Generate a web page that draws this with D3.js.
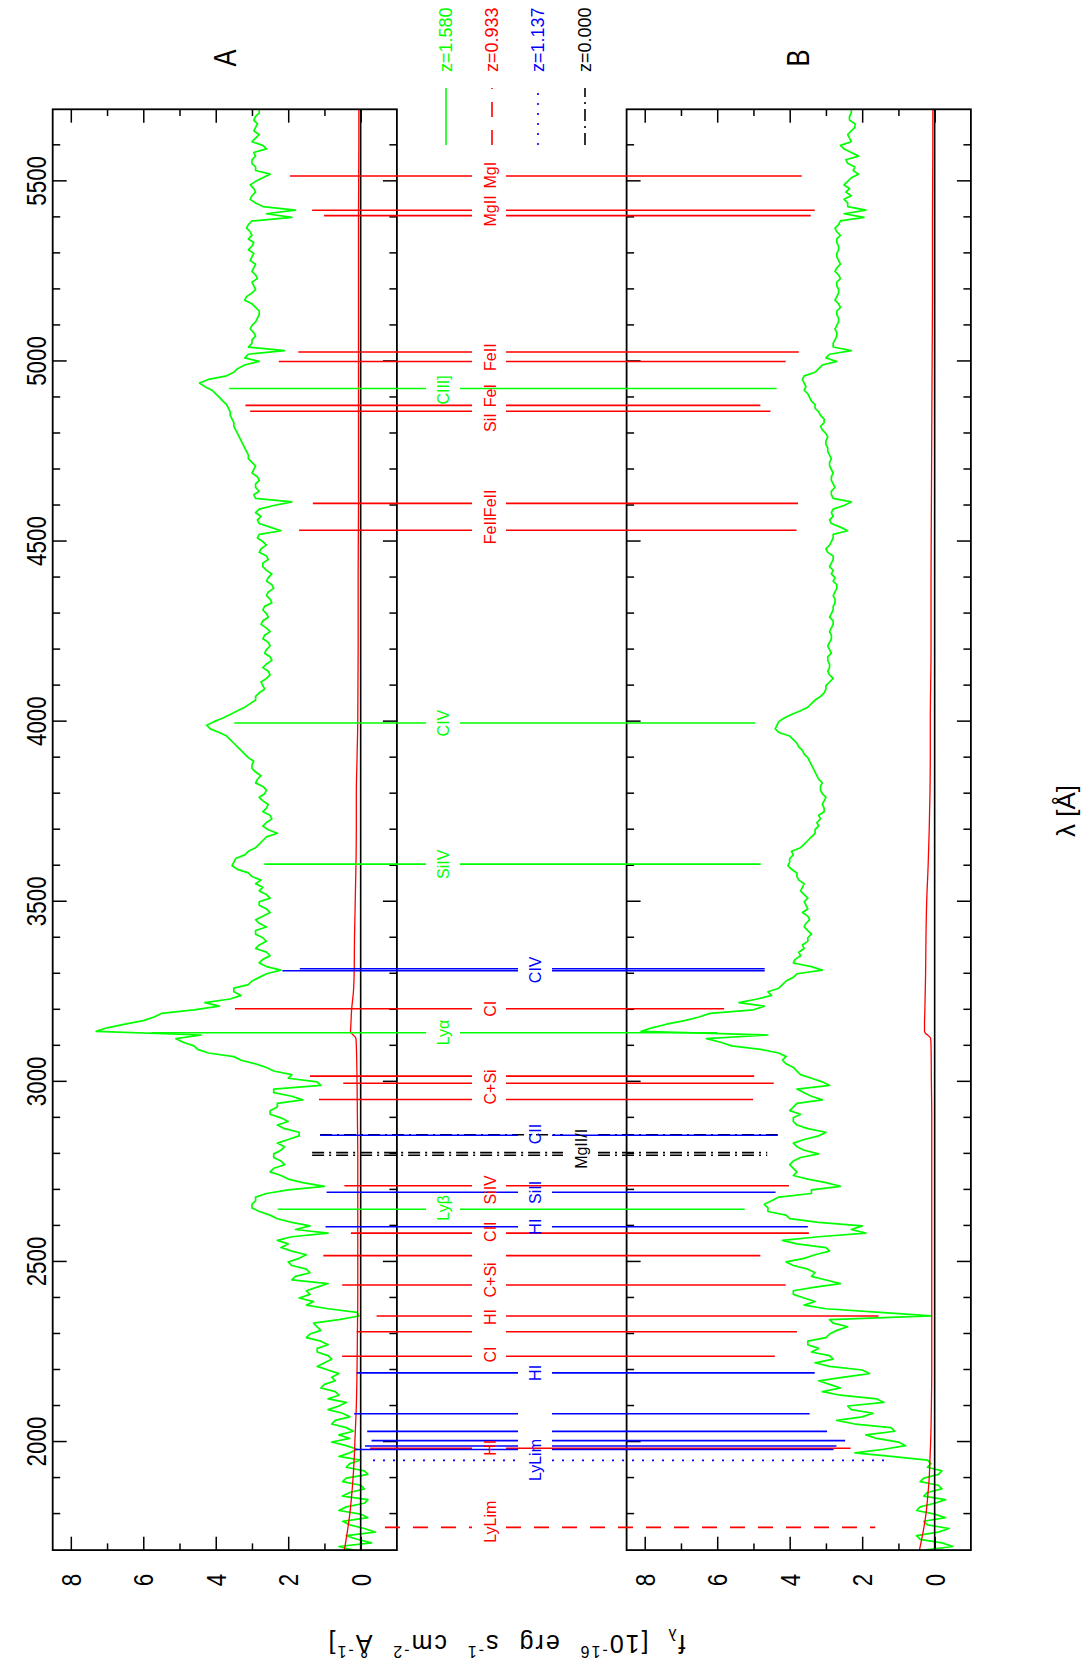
<!DOCTYPE html>
<html><head><meta charset="utf-8">
<script src="https://cdn.jsdelivr.net/npm/d3@7"></script>
<style>body{margin:0;background:#fff} svg{display:block} text{font-family:"Liberation Sans",Arial,sans-serif}</style>
</head><body><svg id="c" width="1087" height="1668"></svg>
<script>
// ---------------- data ----------------
const waveGrid = d3.range(1700, 5701, 10); // wavelength samples [Å]
const fluxA = [
0.2,0.6,-0.3,0.1,0.4,-0.4,-0.1,0.3,0.5,-0.2,
0.0,0.6,0.4,-0.1,-0.2,0.5,0.3,-0.1,0.0,0.5,
0.4,-0.2,-0.1,0.4,0.3,0.0,0.6,0.3,0.1,0.4,
0.8,0.3,0.6,0.2,0.4,0.8,0.7,0.3,0.5,0.9,
0.6,0.4,0.9,0.6,0.7,1.1,1.0,0.7,0.8,0.6,
0.9,1.2,1.0,0.8,0.9,1.2,1.2,0.9,1.1,1.5,
1.4,1.1,1.2,1.3,0.6,0.05,0.1,0.9,1.5,1.3,
1.7,1.4,1.5,1.2,0.9,1.9,1.8,1.4,1.5,1.9,
2.0,1.7,1.5,1.9,2.2,2.0,2.3,1.9,0.9,1.8,
1.4,1.9,2.3,2.5,2.8,3.0,3.0,2.9,2.9,2.6,
2.0,1.0,1.6,2.0,2.2,2.5,2.4,2.1,2.2,2.4,
2.4,2.2,2.1,2.3,2.0,1.7,1.7,2.1,2.3,2.0,
2.2,2.5,2.5,2.3,2.3,1.6,1.9,2.4,2.4,1.1,
1.2,2.0,1.9,2.4,2.6,2.9,3.3,3.5,4.2,4.5,
4.6,4.9,5.1,4.4,7.3,7.0,6.5,6.0,5.7,5.5,
4.6,3.9,4.3,3.6,3.3,3.5,3.5,3.1,3.0,2.8,
2.6,2.2,2.6,2.8,2.7,2.5,2.6,2.9,2.8,2.6,
2.7,2.9,2.9,2.6,2.8,2.9,2.7,2.5,2.6,2.8,
2.8,2.5,2.6,2.8,2.7,2.9,2.75,3.0,3.1,3.4,
3.55,3.5,3.45,3.2,3.1,2.9,2.8,2.7,2.6,2.3,
2.55,2.7,2.6,2.45,2.5,2.7,2.6,2.55,2.7,2.8,
2.65,2.6,2.7,2.9,2.85,2.75,2.9,3.0,3.0,2.95,
3.1,3.2,3.3,3.4,3.5,3.6,3.7,3.9,4.15,4.25,
4.05,3.8,3.6,3.4,3.2,3.05,2.9,2.9,2.8,2.65,
2.7,2.75,2.6,2.5,2.55,2.7,2.6,2.45,2.5,2.65,
2.6,2.5,2.55,2.7,2.65,2.5,2.6,2.75,2.7,2.55,
2.6,2.7,2.65,2.45,2.5,2.6,2.55,2.4,2.45,2.6,
2.55,2.45,2.6,2.7,2.7,2.55,2.6,2.8,2.75,2.6,
2.7,2.85,2.8,2.2,2.5,2.8,2.85,2.75,2.9,2.8,
2.4,1.9,2.9,2.95,2.8,2.9,2.9,2.8,2.85,3.0,
2.95,2.9,3.0,3.1,3.1,3.15,3.2,3.25,3.3,3.35,
3.4,3.45,3.5,3.5,3.55,3.6,3.6,3.65,3.7,3.8,
3.9,4.0,4.1,4.3,4.45,4.2,3.7,3.5,3.4,3.2,
2.8,3.2,3.1,2.1,3.1,3.0,3.0,2.9,2.95,3.05,
3.0,2.9,2.85,2.8,2.8,2.9,3.0,3.2,3.15,3.0,
2.9,2.95,3.0,2.85,2.9,3.0,2.95,2.9,3.05,3.0,
2.95,3.1,3.0,2.95,3.1,3.0,3.05,3.15,3.1,3.0,
1.9,2.6,1.8,2.7,2.9,3.05,3.0,2.9,2.95,3.05,
2.9,2.7,2.5,2.9,2.9,3.0,3.0,2.9,2.95,2.6,
2.7,3.0,2.9,2.8,2.95,2.9,2.85,2.95,2.9,2.8,
2.8];
const fluxB = [
0.3,-0.5,-0.2,0.4,0.5,-0.1,-0.4,0.2,0.3,-0.3,
0.0,0.5,0.4,0.0,-0.3,0.3,0.2,-0.2,-0.1,0.4,
0.3,-0.1,-0.2,0.2,0.1,0.2,1.2,2.2,1.4,0.8,
1.0,1.6,1.9,1.1,1.2,2.2,2.7,2.0,1.7,2.3,
2.4,1.4,1.6,2.6,3.1,2.6,2.9,3.2,2.5,1.8,
2.0,2.9,3.3,2.8,2.9,3.4,3.2,3.5,3.5,3.0,
2.9,2.7,2.4,2.8,2.9,0.1,1.5,3.0,3.6,3.3,
3.6,3.9,3.9,3.3,2.6,3.0,3.4,3.3,3.5,3.9,
4.1,3.6,3.3,2.9,3.0,3.8,4.2,3.2,1.9,2.3,
2.0,3.2,4.0,4.1,4.6,4.6,4.7,4.5,4.3,3.4,
3.4,2.6,3.0,3.5,3.9,3.8,3.9,4.0,3.9,3.7,
3.2,3.6,3.8,3.9,3.6,3.2,3.0,3.5,3.8,3.9,
3.9,3.7,4.0,3.9,3.8,3.1,3.4,3.6,3.8,2.9,
3.1,3.4,3.7,3.8,3.9,4.1,4.2,4.1,4.3,4.8,
5.6,5.9,6.3,4.6,8.1,7.8,7.4,6.9,6.5,6.2,
5.0,4.7,5.4,4.9,4.5,4.6,4.3,4.2,4.1,3.9,
3.8,3.1,3.4,3.9,3.85,3.7,3.75,3.6,3.65,3.5,
3.5,3.4,3.5,3.6,3.55,3.45,3.5,3.65,3.5,3.55,
3.6,3.5,3.6,3.7,3.65,3.6,3.75,3.8,3.8,3.95,
4.05,4.0,4.0,3.9,3.95,3.7,3.6,3.5,3.4,3.3,
3.3,3.2,3.25,3.15,3.2,3.05,3.05,3.1,3.05,3.0,
3.1,3.15,3.15,3.1,3.2,3.25,3.3,3.35,3.4,3.45,
3.5,3.6,3.65,3.75,3.8,3.9,4.0,4.3,4.4,4.35,
4.3,4.15,3.95,3.7,3.5,3.4,3.3,3.15,3.05,3.0,
3.0,2.9,2.8,2.9,2.95,2.9,2.9,2.95,2.95,2.85,
2.9,2.95,2.9,2.85,2.85,2.9,2.85,2.8,2.8,2.9,
2.85,2.8,2.8,2.75,2.75,2.8,2.75,2.7,2.7,2.8,
2.75,2.85,2.8,2.9,2.85,2.8,2.8,2.95,3.0,2.9,
2.85,2.8,2.8,2.4,2.6,2.85,2.9,2.8,2.85,2.8,
2.5,2.3,2.8,2.85,2.85,2.75,2.8,2.85,2.85,2.8,
2.85,2.9,2.9,2.85,2.9,2.95,2.95,3.0,3.0,2.95,
3.0,3.1,3.15,3.05,3.05,3.15,3.2,3.3,3.3,3.4,
3.45,3.5,3.6,3.55,3.6,3.65,3.6,3.3,3.2,3.1,
2.7,3.0,2.9,2.3,2.8,2.8,2.75,2.7,2.7,2.75,
2.7,2.65,2.65,2.7,2.7,2.6,2.65,2.75,2.7,2.65,
2.65,2.7,2.7,2.6,2.65,2.75,2.7,2.6,2.65,2.7,
2.7,2.65,2.65,2.7,2.7,2.6,2.7,2.75,2.65,2.6,
1.95,2.5,1.9,2.4,2.4,2.5,2.3,2.45,2.35,2.5,
2.4,2.3,2.1,2.25,2.2,2.4,2.45,2.1,2.3,2.5,
2.6,2.3,2.35,2.4,2.3,2.2,2.2,2.35,2.35,2.3,
2.3];
const errWave = [1700,1750,1800,1850,1900,1950,2000,2100,2200,2300,2400,2500,2600,2700,2800,2900,3000,3100,3120,3140,3160,3200,3250,3300,3400,3500,3600,3700,3800,3900,4000,4200,4400,4600,4800,5000,5200,5400,5600,5700];
const errA = [0.45,0.37,0.30,0.25,0.21,0.18,0.16,0.12,0.10,0.09,0.08,0.08,0.08,0.08,0.08,0.09,0.10,0.12,0.13,0.28,0.27,0.25,0.20,0.18,0.17,0.15,0.13,0.12,0.12,0.10,0.08,0.07,0.07,0.06,0.06,0.06,0.06,0.06,0.05,0.05];
const errB = [0.42,0.32,0.24,0.19,0.15,0.13,0.11,0.09,0.08,0.08,0.08,0.08,0.08,0.08,0.08,0.08,0.09,0.10,0.11,0.28,0.28,0.27,0.26,0.25,0.24,0.22,0.18,0.15,0.13,0.12,0.12,0.10,0.10,0.09,0.08,0.07,0.06,0.06,0.05,0.05];

const waveTicks = [2000,2500,3000,3500,4000,4500,5000,5500];
const waveMinorTicks = [1800,1900,2100,2200,2300,2400,2600,2700,2800,2900,3100,3200,3300,3400,3600,3700,3800,3900,4100,4200,4300,4400,4600,4700,4800,4900,5100,5200,5300,5400,5600];
const fluxTicks = [0,2,4,6,8];
const fluxMinorTicks = [1,3,5,7];

// [wavelength, system, flux where line starts in A, flux where line ends in B]
const lineMarks = [
 [5514.8,'r',1.95,3.67],[5419.6,'r',1.34,3.31],[5404.7,'r',1.01,3.42],
 [5026.1,'r',1.72,3.75],[5000.0,'r',2.26,4.11],[4878.0,'r',3.18,4.81],[4861.7,'r',3.05,4.53],
 [4605.9,'r',1.32,3.77],[4531.3,'r',1.70,3.81],[3203.0,'r',3.47,5.81],
 [3016.0,'r',1.40,4.98],[2996.0,'r',0.48,4.44],[2951.0,'r',1.15,5.01],
 [2711.6,'r',0.45,4.02],[2580.0,'r',0.27,3.47],[2517.5,'r',1.03,4.81],[2436.0,'r',0.51,4.11],
 [2350.0,'r',-0.44,1.55],[2306.0,'r',0.11,3.80],[2238.0,'r',0.51,4.41],[1982.7,'r',-0.26,2.32],
 [1763.0,'rd',-0.67,1.64],
 [4925.0,'g',3.63,4.36],[3996.4,'g',3.49,4.95],[3604.4,'g',2.66,4.80],[3136.4,'g',5.77,6.0],[2646.3,'g',2.29,5.24],
 [2853.0,'k',1.12,4.33],[2803.5,'k',1.34,4.62],[2796.4,'k',1.34,4.62],
 [3314.0,'b',1.68,4.69],[3308.5,'b',2.16,4.69],[2851.8,'b',1.12,4.33],[2693.5,'b',0.94,4.39],
 [2597.9,'b',0.97,3.50],[2192.0,'b',0.11,3.31],[2078.4,'b',0.18,3.45],[2029.5,'b',-0.18,2.97],
 [2004.0,'b',-0.30,2.47],[1989.0,'b',-0.12,2.71],[1979.3,'b',0.16,2.79],
 [1949.0,'bd',-0.34,1.38]
];
// [text, wavelength, system]
const lineLabels = [
 ['MgI',5517,'r'],['MgII',5418,'r'],['FeII',5012,'r'],['FeI',4905,'r'],['SiI',4830,'r'],
 ['FeII',4606,'r'],['FeII',4531,'r'],['CI',3203,'r'],['C+Si',2986,'r'],['SiIV',2700,'r'],
 ['CII',2584,'r'],['C+Si',2450,'r'],['HI',2347,'r'],['CI',2243,'r'],['HI',1984,'r'],['LyLim',1779,'r'],
 ['CIII]',4921,'g'],['CIV',3996,'g'],['SiIV',3604,'g'],['Lyα',3137,'g'],['Lyβ',2650,'g'],
 ['CIV',3311,'b'],['CII',2855,'b'],['SiII',2693,'b'],['HI',2598,'b'],['HI',2192,'b'],['LyLim',1950,'b'],
 ['MgII/I',2814,'k']
];
const legendLabels = ['z=1.580','z=0.933','z=1.137','z=0.000'];
const legendSystems = ['g','rd','bd','k'];

// ---------------- styles ----------------
const sysStyle = {
 r:{color:'#ff0000',dash:null,gap:[472,506],col:490},
 rd:{color:'#ff0000',dash:'15,13',gap:[472,506],col:490},
 g:{color:'#00ff00',dash:null,gap:[426,460],col:443},
 b:{color:'#0000ff',dash:null,gap:[518,552],col:535},
 bd:{color:'#0000ff',dash:'2,8',gap:[518,552],col:535},
 k:{color:'#000000',dash:'12,5,2,5',gap:[563,598],col:581}
};

// ---------------- drawing ----------------
const W = 1087, H = 1668;
const svg = d3.select('#c');
svg.append('rect').attr('width',W).attr('height',H).attr('fill','#fff');
// landscape frame rotated by -90 degrees
const g = svg.append('g').attr('transform',`translate(0,${H}) rotate(-90)`);

const x = d3.scaleLinear().domain([1700,5700]).range([H-1550.1, H-109.3]);
const yA = d3.scaleLinear().domain([-1,8.5]).range([396.9, 52.7]);
const yB = d3.scaleLinear().domain([-1,8.5]).range([970.9, 626.6]);

function styleAxis(sel){
  sel.select('.domain').remove();
  sel.selectAll('.tick line').attr('stroke','#000').attr('stroke-width',1.5);
  sel.attr('font-family',null).attr('font-size',null);
}

function drawPanel(y, flux, err, withLabels){
  const p = g.append('g');
  const x0 = x(1700), x1 = x(5700), yt = y(8.5), yb = y(-1);
  // spectrum
  p.append('path')
    .datum(waveGrid.map((w,i)=>[w,flux[i]]))
    .attr('d', d3.line().x(d=>x(d[0])).y(d=>y(d[1])))
    .attr('fill','none').attr('stroke','#00ff00').attr('stroke-width',1.7).attr('stroke-linejoin','round');
  // error
  p.append('path')
    .datum(errWave.map((w,i)=>[w,err[i]]))
    .attr('d', d3.line().curve(d3.curveMonotoneX).x(d=>x(d[0])).y(d=>y(d[1])))
    .attr('fill','none').attr('stroke','#ff0000').attr('stroke-width',1.3);
  // zero line
  p.append('line').attr('x1',x0).attr('x2',x1).attr('y1',y(0)).attr('y2',y(0))
    .attr('stroke','#000').attr('stroke-width',1.6);
  // wavelength ticks
  const tTop = p.append('g').attr('transform',`translate(0,${yt})`)
    .call(d3.axisTop(x).tickValues(waveTicks).tickSizeInner(-14).tickSizeOuter(0).tickPadding(7)
      .tickFormat(withLabels ? d3.format('d') : ()=>''));
  styleAxis(tTop);
  tTop.selectAll('.tick text').attr('fill','#000').attr('font-size',28).attr('transform','scale(0.8,1)');
  const tTopMin = p.append('g').attr('transform',`translate(0,${yt})`)
    .call(d3.axisTop(x).tickValues(waveMinorTicks).tickSizeInner(-7.5).tickSizeOuter(0).tickFormat(()=>''));
  styleAxis(tTopMin);
  const tBot = p.append('g').attr('transform',`translate(0,${yb})`)
    .call(d3.axisBottom(x).tickValues(waveTicks).tickSizeInner(-14).tickSizeOuter(0).tickFormat(()=>''));
  styleAxis(tBot);
  const tBotMin = p.append('g').attr('transform',`translate(0,${yb})`)
    .call(d3.axisBottom(x).tickValues(waveMinorTicks).tickSizeInner(-7.5).tickSizeOuter(0).tickFormat(()=>''));
  styleAxis(tBotMin);
  // flux ticks
  [[d3.axisLeft, x0],[d3.axisRight, x1]].forEach(([fn,pos])=>{
    const a = p.append('g').attr('transform',`translate(${pos},0)`)
      .call(fn(y).tickValues(fluxTicks).tickSizeInner(-13.4).tickSizeOuter(0).tickFormat(()=>''));
    styleAxis(a);
    const b = p.append('g').attr('transform',`translate(${pos},0)`)
      .call(fn(y).tickValues(fluxMinorTicks).tickSizeInner(-6.7).tickSizeOuter(0).tickFormat(()=>''));
    styleAxis(b);
  });
  // flux tick labels
  p.selectAll('text.fl').data(fluxTicks).join('text').attr('class','fl')
    .attr('transform',d=>`translate(${x0-30},${y(d)}) scale(0.8,1)`)
    .attr('text-anchor','middle').attr('dominant-baseline','central')
    .attr('font-size',28).attr('fill','#000').text(d=>d3.format('d')(d));
  // frame
  p.append('rect').attr('x',x0).attr('y',yt).attr('width',x1-x0).attr('height',yb-yt)
    .attr('fill','none').attr('stroke','#000').attr('stroke-width',1.8);
}

drawPanel(yA, fluxA, errA, true);
drawPanel(yB, fluxB, errB, false);

// line markers
const mk = g.append('g');
lineMarks.forEach(([w,s,a,b])=>{
  const st = sysStyle[s];
  const segs = [[yA(a), st.gap[0]],[st.gap[1], yB(b)]];
  segs.forEach(([u,v])=>{
    const l = mk.append('line').attr('x1',x(w)).attr('x2',x(w)).attr('y1',u).attr('y2',v)
      .attr('stroke',st.color).attr('stroke-width',1.6);
    if (st.dash) l.attr('stroke-dasharray',st.dash);
  });
});
mk.selectAll('text').data(lineLabels).join('text')
  .attr('x',d=>x(d[1])).attr('y',d=>sysStyle[d[2]].col)
  .attr('text-anchor','middle').attr('dominant-baseline','central')
  .attr('font-size',16).attr('fill',d=>sysStyle[d[2]].color).text(d=>d[0]);

// legend
const leg = g.append('g');
const legCols = [446,492,538,585];
legendLabels.forEach((t,i)=>{
  const st = sysStyle[legendSystems[i]];
  const l = leg.append('line').attr('x1',H-145).attr('x2',H-88).attr('y1',legCols[i]).attr('y2',legCols[i])
    .attr('stroke',st.color).attr('stroke-width',1.6);
  if (st.dash) l.attr('stroke-dasharray',st.dash);
  leg.append('text').attr('x',H-72).attr('y',legCols[i]).attr('dominant-baseline','central')
    .attr('font-size',18).attr('fill',st.color).text(t);
});

// panel names
[['A',225],['B',798]].forEach(([t,c])=>{
  g.append('text').attr('transform',`translate(${H-58},${c}) scale(0.8,1)`)
    .attr('text-anchor','middle').attr('dominant-baseline','central')
    .attr('font-size',32).attr('fill','#000').text(t);
});

// x-axis title
g.append('text').attr('x',H-811).attr('y',1066).attr('text-anchor','middle').attr('dominant-baseline','central')
  .attr('font-size',26).attr('fill','#000').text('λ [Å]');

// y-axis title
const yl = g.append('text').attr('transform','translate(33,506) rotate(-90)')
  .attr('text-anchor','middle').attr('font-size',25).attr('fill','#000')
  .attr('letter-spacing',2).attr('word-spacing',10);
yl.append('tspan').text('f');
yl.append('tspan').attr('font-size',16).attr('dy',6).text('λ');
yl.append('tspan').attr('dy',-6).attr('dx',18).text('[10');
yl.append('tspan').attr('font-size',16).attr('dy',-11).text('-16');
yl.append('tspan').attr('dy',11).text(' erg s');
yl.append('tspan').attr('font-size',16).attr('dy',-11).text('-1');
yl.append('tspan').attr('dy',11).text(' cm');
yl.append('tspan').attr('font-size',16).attr('dy',-11).text('-2');
yl.append('tspan').attr('dy',11).text(' Å');
yl.append('tspan').attr('font-size',16).attr('dy',-11).text('-1');
yl.append('tspan').attr('dy',11).text(']');
</script></body></html>
